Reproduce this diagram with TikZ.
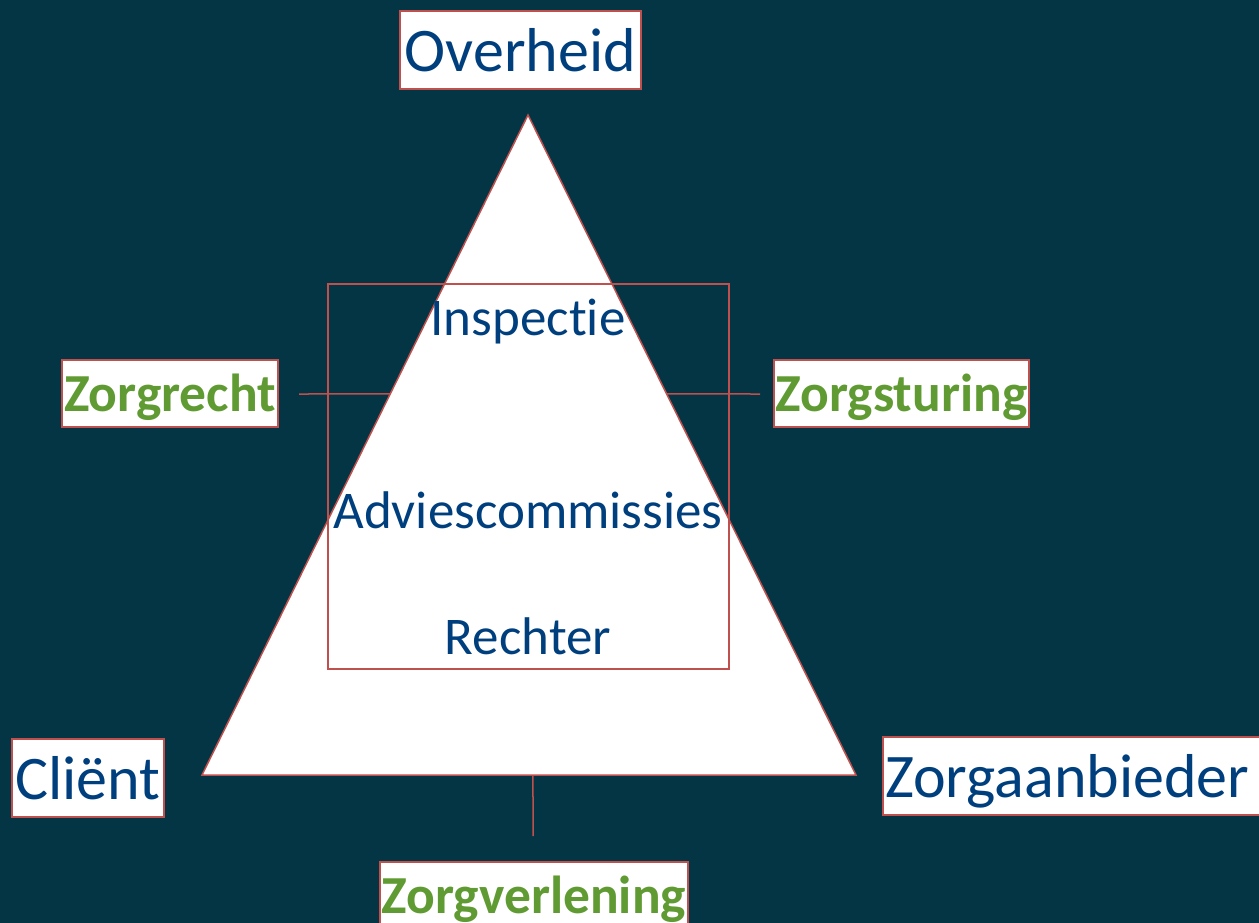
\documentclass[tikz,border=0pt]{standalone}
\usepackage{fontspec}
\setmainfont{Carlito}[Ligatures={NoCommon,NoRequired}]
\usetikzlibrary{positioning}
\definecolor{bgteal}{RGB}{3,53,68}
\definecolor{txtblue}{RGB}{0,63,125}
\definecolor{txtgreen}{RGB}{95,155,50}
\definecolor{edgered}{RGB}{192,80,77}

\begin{document}
\begin{tikzpicture}[
  x=1pt, y=-1pt,
  actor/.style={draw=edgered, line width=2pt, fill=white, text=txtblue, inner sep=0pt,
    font=\fontsize{62}{74}\selectfont, text height=45.9pt, text depth=3.7pt},
  theme/.style={draw=edgered, line width=2pt, fill=white, text=txtgreen, inner sep=0pt,
    font=\fontsize{53.5}{64}\bfseries, text height=39.6pt, text depth=3.2pt},
  body/.style={text=txtblue, inner sep=0pt,
    font=\fontsize{53}{64}\selectfont, text height=39.2pt, text depth=3.2pt},
  edge/.style={draw=edgered, line width=1.5pt}]

  \fill[bgteal] (0,0) rectangle (1259,923);
  \useasboundingbox (0,0) rectangle (1259,923);
  \clip (0,0) rectangle (1259,923);

  % triangle
  \coordinate (top) at (528,115);
  \coordinate (bl) at (202,775);
  \coordinate (br) at (856,775);
  \draw[edge, fill=white] (top) -- (br) -- (bl) -- cycle;

  % middle panel
  \coordinate (panelnw) at (328,284);
  \coordinate (panelse) at (729,669);
  \draw[edge] (panelnw) rectangle (panelse);

  \node[body] (inspectie) at (528,317) {Inspectie};
  \node[body] (advies) at (528,510) {Adviescommissies};
  \node[body] (rechter) at (528,636) {Rechter};

  % corners
  \node[actor, minimum width=241pt, minimum height=78pt] (overheid) at (520.5,50) {Overheid};
  \node[actor, minimum width=152pt, minimum height=78pt] (client) at (88,778) {Cliënt};
  \node[actor, anchor=west, minimum height=78pt, text width=400pt, align=left, inner xsep=2pt]
    (aanbieder) at (882,776) {Zorgaanbieder};

  % sides
  \node[theme, minimum width=216pt, minimum height=67pt] (recht) at (170,393.5) {Zorgrecht};
  \node[theme, minimum width=255pt, minimum height=67pt] (sturing) at (901.5,393.5) {Zorgsturing};
  \node[theme, minimum width=308pt, minimum height=67pt] (verlening) at (534,895.5) {Zorgverlening};

  % ticks
  \path (top) -- (bl) coordinate[pos=0.4227] (lside);
  \path (top) -- (br) coordinate[pos=0.4227] (rside);
  \path (bl) -- (br) coordinate[pos=0.5061] (bside);
  \coordinate (lend) at (299,394);
  \coordinate (rend) at (760,394);
  \coordinate (bend) at (533,836);
  \draw[edge] (lend) -- (lside);
  \draw[edge] (rside) -- (rend);
  \draw[edge] (bside) -- (bend);
\end{tikzpicture}
\end{document}
